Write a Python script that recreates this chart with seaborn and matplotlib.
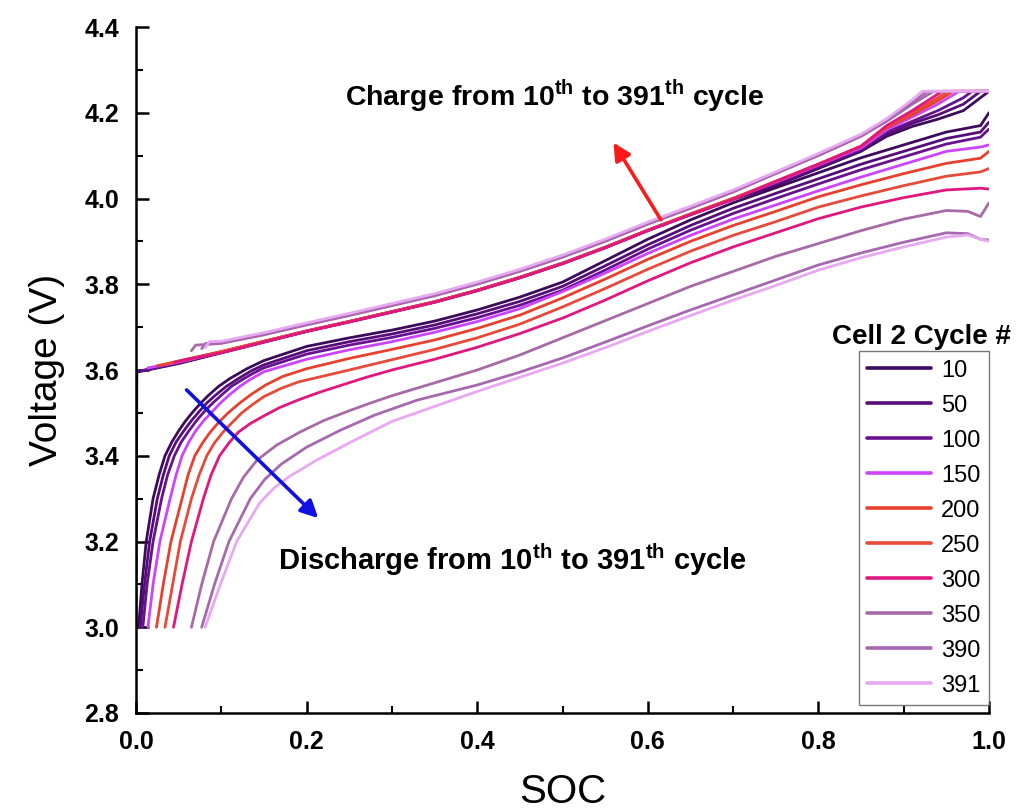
import numpy as np
import pandas as pd
import seaborn as sns
import matplotlib
matplotlib.use("Agg")
import matplotlib.pyplot as plt
from matplotlib.lines import Line2D

# ---------------- data ----------------
cycles = ["10", "50", "100", "150", "200", "250", "300", "350", "390", "391"]
colors = ["#3d0b5c", "#560d7a", "#67118f", "#cc44ff", "#e8402f", "#e54a3a",
          "#e0177f", "#a66aa6", "#a668ae", "#e8a8f2"]

tail_soc = [0.15, 0.20, 0.25, 0.30, 0.35, 0.40, 0.45, 0.50, 0.55, 0.60, 0.65,
            0.70, 0.75, 0.80, 0.85, 0.90, 0.95, 0.99, 1.0]

# discharge curves (SOC, V)
d10_soc = [0.003, 0.007, 0.012, 0.020, 0.027, 0.034, 0.042, 0.050, 0.058, 0.067,
           0.076, 0.085, 0.097, 0.110, 0.130] + tail_soc
d10_v = [3.00, 3.10, 3.20, 3.30, 3.355, 3.40, 3.432, 3.458, 3.481, 3.503,
         3.523, 3.541, 3.562, 3.580, 3.603,
         3.622, 3.655, 3.675, 3.693, 3.714, 3.740, 3.770, 3.805, 3.855, 3.905,
         3.950, 3.990, 4.025, 4.060, 4.095, 4.125, 4.155, 4.170, 4.200]
d50_soc = [0.005, 0.010, 0.016, 0.025, 0.032, 0.039, 0.047, 0.056, 0.065, 0.074,
           0.083, 0.093, 0.106, 0.120, 0.135] + tail_soc
d50_v = [3.00, 3.10, 3.20, 3.30, 3.355, 3.40, 3.432, 3.458, 3.482, 3.503,
         3.523, 3.541, 3.562, 3.580, 3.598,
         3.612, 3.645, 3.666, 3.684, 3.705, 3.731, 3.760, 3.795, 3.843, 3.892,
         3.937, 3.977, 4.012, 4.046, 4.080, 4.110, 4.140, 4.155, 4.178]
d100_soc = [0.008, 0.013, 0.020, 0.030, 0.037, 0.045, 0.053, 0.062, 0.071, 0.080,
            0.090, 0.100, 0.112, 0.125, 0.137] + tail_soc
d100_v = [3.00, 3.10, 3.20, 3.30, 3.355, 3.40, 3.432, 3.458, 3.482, 3.503,
          3.523, 3.541, 3.562, 3.578, 3.592,
          3.605, 3.637, 3.658, 3.676, 3.697, 3.722, 3.751, 3.786, 3.833, 3.882,
          3.926, 3.965, 4.000, 4.034, 4.067, 4.097, 4.127, 4.143, 4.162]
d150_soc = [0.014, 0.020, 0.028, 0.040, 0.047, 0.054, 0.062, 0.070, 0.079, 0.089,
            0.099, 0.110, 0.122, 0.134] + tail_soc
d150_v = [3.00, 3.10, 3.20, 3.30, 3.355, 3.40, 3.432, 3.458, 3.481, 3.502,
          3.523, 3.543, 3.562, 3.578,
          3.596, 3.625, 3.647, 3.666, 3.688, 3.713, 3.743, 3.783, 3.826, 3.872,
          3.914, 3.952, 3.985, 4.018, 4.050, 4.080, 4.110, 4.120, 4.125]
d200_soc = [0.024, 0.032, 0.041, 0.054, 0.061, 0.069, 0.078, 0.087, 0.097, 0.108,
            0.121, 0.135, 0.152, 0.172] + tail_soc[1:]
d200_v = [3.00, 3.10, 3.20, 3.30, 3.355, 3.40, 3.430, 3.455, 3.478, 3.500,
          3.522, 3.543, 3.565, 3.585,
          3.603, 3.627, 3.648, 3.670, 3.697, 3.728, 3.768, 3.812, 3.858,
          3.900, 3.937, 3.970, 4.004, 4.032, 4.058, 4.082, 4.094, 4.110]
d250_soc = [0.034, 0.043, 0.052, 0.065, 0.074, 0.083, 0.092, 0.102, 0.113, 0.124,
            0.137, 0.150, 0.170, 0.190, 0.220] + tail_soc[2:]
d250_v = [3.00, 3.10, 3.20, 3.30, 3.355, 3.40, 3.430, 3.455, 3.478, 3.500,
          3.520, 3.538, 3.557, 3.572, 3.586,
          3.600, 3.624, 3.648, 3.675, 3.707, 3.747, 3.790, 3.835,
          3.877, 3.914, 3.946, 3.980, 4.006, 4.030, 4.052, 4.062, 4.070]
d300_soc = [0.044, 0.054, 0.065, 0.079, 0.088, 0.098, 0.109, 0.120, 0.134, 0.149,
            0.168, 0.190, 0.215, 0.240, 0.270] + tail_soc[3:]
d300_v = [3.00, 3.10, 3.20, 3.30, 3.355, 3.40, 3.430, 3.455, 3.475, 3.492,
          3.512, 3.530, 3.548, 3.564, 3.583,
          3.600, 3.625, 3.653, 3.685, 3.721, 3.763, 3.808,
          3.850, 3.887, 3.920, 3.953, 3.980, 4.002, 4.020, 4.024, 4.022]
d350_soc = [0.065, 0.077, 0.091, 0.112, 0.126, 0.142, 0.165, 0.192, 0.220, 0.25,
            0.275, 0.30, 0.35, 0.40, 0.45, 0.50, 0.55, 0.60, 0.65, 0.70, 0.75,
            0.80, 0.85, 0.90, 0.95, 0.975, 0.99, 1.0]
d350_v = [3.00, 3.10, 3.20, 3.30, 3.350, 3.390, 3.425, 3.455, 3.482, 3.505,
          3.523, 3.540, 3.570, 3.600, 3.635, 3.675, 3.715, 3.755, 3.795, 3.830,
          3.865, 3.895, 3.925, 3.952, 3.972, 3.970, 3.958, 3.990]
d390_soc = [0.077, 0.092, 0.109, 0.134, 0.151, 0.170, 0.200, 0.24, 0.28, 0.33,
            0.40, 0.45, 0.50, 0.55, 0.60, 0.65, 0.70, 0.75, 0.80, 0.85, 0.90,
            0.95, 0.975, 0.99, 1.0]
d390_v = [3.00, 3.10, 3.20, 3.30, 3.345, 3.380, 3.420, 3.460, 3.495, 3.530,
          3.565, 3.595, 3.628, 3.665, 3.703, 3.740, 3.775, 3.810, 3.845, 3.873,
          3.898, 3.920, 3.918, 3.905, 3.903]
d391_soc = [0.081, 0.099, 0.118, 0.145, 0.162, 0.180, 0.212, 0.25, 0.30, 0.35,
            0.40, 0.45, 0.50, 0.55, 0.60, 0.65, 0.70, 0.75, 0.80, 0.85, 0.90,
            0.95, 0.975, 0.99, 1.0]
d391_v = [3.00, 3.10, 3.20, 3.29, 3.325, 3.352, 3.390, 3.430, 3.480, 3.515,
          3.550, 3.583, 3.616, 3.652, 3.690, 3.727, 3.763, 3.797, 3.833, 3.862,
          3.887, 3.910, 3.915, 3.905, 3.900]

# charge curves (SOC, V)
cgrid = [0.10, 0.15, 0.20, 0.25, 0.30, 0.35, 0.40, 0.45, 0.50, 0.55, 0.60,
         0.65, 0.70, 0.75, 0.80, 0.85]
c10_soc = [0.0, 0.001, 0.05] + cgrid + [0.88, 0.91, 0.94, 0.97, 0.99, 1.0]
c10_v = [3.00, 3.595, 3.615, 3.640, 3.665, 3.690, 3.712, 3.735, 3.758, 3.785, 3.815,
         3.848, 3.885, 3.925, 3.962, 3.998, 4.030, 4.070, 4.110,
         4.145, 4.168, 4.185, 4.205, 4.235, 4.25]
c50_soc = [0.003, 0.05] + cgrid + [0.88, 0.91, 0.94, 0.97, 0.99, 1.0]
c50_v = [3.597, 3.616, 3.641, 3.666, 3.690, 3.713, 3.736, 3.759, 3.786, 3.816,
         3.849, 3.886, 3.926, 3.963, 4.000, 4.033, 4.073, 4.113,
         4.150, 4.175, 4.195, 4.220, 4.250, 4.25]
c100_soc = [0.007, 0.05] + cgrid + [0.88, 0.91, 0.94, 0.97, 0.98, 1.0]
c100_v = [3.598, 3.617, 3.641, 3.666, 3.691, 3.713, 3.736, 3.759, 3.786, 3.816,
          3.849, 3.886, 3.926, 3.963, 4.000, 4.035, 4.075, 4.115,
          4.155, 4.180, 4.205, 4.235, 4.250, 4.25]
c150_soc = [0.014, 0.05] + cgrid + [0.88, 0.91, 0.94, 0.965, 1.0]
c150_v = [3.605, 3.618, 3.642, 3.667, 3.691, 3.713, 3.736, 3.759, 3.786, 3.816,
          3.849, 3.886, 3.926, 3.963, 4.000, 4.038, 4.078, 4.118,
          4.160, 4.190, 4.220, 4.250, 4.25]
c200_soc = [0.025, 0.05] + cgrid + [0.88, 0.91, 0.94, 0.958, 1.0]
c200_v = [3.610, 3.620, 3.643, 3.667, 3.691, 3.713, 3.736, 3.759, 3.786, 3.816,
          3.849, 3.886, 3.926, 3.964, 4.000, 4.040, 4.080, 4.122,
          4.165, 4.195, 4.228, 4.250, 4.25]
c250_soc = [0.035, 0.05] + cgrid + [0.88, 0.91, 0.94, 0.952, 1.0]
c250_v = [3.614, 3.621, 3.643, 3.667, 3.691, 3.713, 3.736, 3.759, 3.786, 3.816,
          3.849, 3.886, 3.926, 3.964, 4.000, 4.040, 4.080, 4.122,
          4.168, 4.200, 4.235, 4.250, 4.25]
c300_soc = [0.045, 0.06] + cgrid + [0.88, 0.91, 0.945, 1.0]
c300_v = [3.618, 3.625, 3.640, 3.665, 3.690, 3.712, 3.735, 3.758, 3.785, 3.815,
          3.848, 3.885, 3.925, 3.962, 3.998, 4.040, 4.080, 4.122,
          4.170, 4.205, 4.250, 4.25]
c350_soc = [0.065, 0.07] + cgrid + [0.88, 0.91, 0.935, 1.0]
c350_v = [3.645, 3.658, 3.662, 3.682, 3.705, 3.727, 3.750, 3.773, 3.800, 3.830,
          3.863, 3.900, 3.940, 3.977, 4.015, 4.058, 4.100, 4.145,
          4.180, 4.220, 4.250, 4.25]
c390_soc = [0.077, 0.082] + cgrid + [0.88, 0.91, 0.928, 1.0]
c390_v = [3.650, 3.662, 3.664, 3.684, 3.707, 3.729, 3.752, 3.775, 3.802, 3.832,
          3.865, 3.902, 3.942, 3.979, 4.017, 4.060, 4.102, 4.147,
          4.183, 4.225, 4.250, 4.25]
c391_soc = [0.081, 0.086] + cgrid + [0.88, 0.91, 0.922, 1.0]
c391_v = [3.652, 3.666, 3.667, 3.687, 3.710, 3.732, 3.755, 3.778, 3.805, 3.835,
          3.868, 3.905, 3.945, 3.982, 4.020, 4.062, 4.105, 4.150,
          4.186, 4.230, 4.250, 4.25]

discharge = {"10": (d10_soc, d10_v), "50": (d50_soc, d50_v), "100": (d100_soc, d100_v),
             "150": (d150_soc, d150_v), "200": (d200_soc, d200_v), "250": (d250_soc, d250_v),
             "300": (d300_soc, d300_v), "350": (d350_soc, d350_v), "390": (d390_soc, d390_v),
             "391": (d391_soc, d391_v)}
charge = {"10": (c10_soc, c10_v), "50": (c50_soc, c50_v), "100": (c100_soc, c100_v),
          "150": (c150_soc, c150_v), "200": (c200_soc, c200_v), "250": (c250_soc, c250_v),
          "300": (c300_soc, c300_v), "350": (c350_soc, c350_v), "390": (c390_soc, c390_v),
          "391": (c391_soc, c391_v)}

x_ticks = [0.0, 0.2, 0.4, 0.6, 0.8, 1.0]
y_ticks = [2.8, 3.0, 3.2, 3.4, 3.6, 3.8, 4.0, 4.2, 4.4]

# ---------------- style ----------------
sns.set_style("ticks")
plt.rcParams["font.family"] = ["Liberation Sans", "DejaVu Sans"]
plt.rcParams["mathtext.fontset"] = "custom"
plt.rcParams["mathtext.rm"] = "Liberation Sans"
plt.rcParams["mathtext.bf"] = "Liberation Sans:bold"
for key in ("text.color", "axes.labelcolor", "xtick.color", "ytick.color"):
    plt.rcParams[key] = "black"

fig = plt.figure(figsize=(10.17, 8.10), dpi=100)
ax = fig.add_axes([136 / 1017, 1 - 713 / 810, (989 - 136) / 1017, (713 - 27) / 810])

rows = []
for cyc in cycles:
    for kind, src in (("discharge", discharge), ("charge", charge)):
        s, v = src[cyc]
        for i, (a, b) in enumerate(zip(s, v)):
            rows.append({"cycle": cyc, "kind": kind, "SOC": a, "V": b, "order": i})
df = pd.DataFrame(rows)

palette = dict(zip(cycles, colors))
for cyc in cycles:
    for kind in ("charge", "discharge"):
        sub = df[(df.cycle == cyc) & (df.kind == kind)]
        sns.lineplot(data=sub, x="SOC", y="V", color=palette[cyc], lw=2.0,
                     sort=False, estimator=None, ax=ax, legend=False)

ax.set_xlim(0, 1.0)
ax.set_ylim(2.8, 4.4)
ax.set_xticks(x_ticks)
ax.set_yticks(y_ticks)
ax.set_xticklabels([f"{t:.1f}" for t in x_ticks], fontsize=18, fontweight="bold")
ax.set_yticklabels([f"{t:.1f}" for t in y_ticks], fontsize=18, fontweight="bold")
ax.set_xticks(np.arange(0.1, 1.0, 0.2), minor=True)
ax.set_yticks(np.arange(2.9, 4.4, 0.2), minor=True)
ax.tick_params(which="major", direction="in", length=9, width=1.8)
ax.tick_params(which="minor", direction="in", length=5, width=1.5)
ax.tick_params(axis="y", which="major", pad=12)
ax.tick_params(axis="x", which="major", pad=12)
for sp in ("top", "right"):
    ax.spines[sp].set_visible(False)
for sp in ("left", "bottom"):
    ax.spines[sp].set_linewidth(1.8)
    ax.spines[sp].set_color("black")

ax.set_xlabel("SOC", fontsize=29, labelpad=14)
ax.set_ylabel("Voltage (V)", fontsize=28, labelpad=14)

# annotations
ax.text(0.491, 4.237, r"Charge from 10$^{\mathbf{th}}$ to 391$^{\mathbf{th}}$ cycle",
        fontsize=20.5, fontweight="bold", ha="center", va="center")
ax.text(0.441, 3.157, r"Discharge from 10$^{\mathbf{th}}$ to 391$^{\mathbf{th}}$ cycle",
        fontsize=21, fontweight="bold", ha="center", va="center")
ax.annotate("", xy=(0.558, 4.136), xytext=(0.617, 3.945),
            arrowprops=dict(arrowstyle="-|>", color="#ff1a1a", lw=2.6, mutation_scale=26))
ax.annotate("", xy=(0.216, 3.25), xytext=(0.057, 3.558),
            arrowprops=dict(arrowstyle="-|>", color="#1010e0", lw=2.6, mutation_scale=26))

handles = [Line2D([], [], color=c, lw=2.6) for c in colors]
leg = ax.legend(handles, cycles, loc="lower right", bbox_to_anchor=(1.0, 0.012),
                fontsize=17, handlelength=2.7, labelspacing=0.55, handletextpad=0.45,
                frameon=True, fancybox=False, borderpad=0.35, borderaxespad=0)
leg.get_frame().set_edgecolor("#555555")
leg.get_frame().set_linewidth(1.0)
for t in leg.get_texts():
    t.set_color("black")
ax.text(0.921, 0.548, "Cell 2 Cycle #", transform=ax.transAxes, fontsize=20,
        fontweight="bold", ha="center", va="center")

fig.savefig("out.png", dpi=100)
